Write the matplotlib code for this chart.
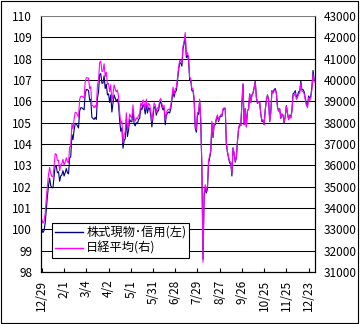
import matplotlib
matplotlib.use("Agg")
import matplotlib.pyplot as plt
from matplotlib.patches import Rectangle

plt.rcParams['font.family'] = ['Noto Sans CJK JP', 'DejaVu Sans']

# trading days, 2023/12/29 - 2024/12/30; a label every 20 days
tick_labels = ["12/29", "2/1", "3/4", "4/2", "5/1", "5/31", "6/28",
               "7/29", "8/27", "9/26", "10/25", "11/25", "12/23"]

# 日経平均 (right axis)
nikkei = [
    33464, 33288, 33377, 33763, 34441, 35049, 35577, 35901, 35619, 35477,
    35466, 35963, 36546, 36517, 36226, 36236, 35751, 36026, 36065, 36286,
    36011, 36158, 36354, 36160, 36119, 36863, 36897, 37963, 37703, 38157,
    38487, 38470, 38363, 38262, 39098, 39233, 39239, 39208, 39166, 39910,
    40109, 40097, 40090, 39598, 39688, 38820, 38797, 38695, 38807, 38707,
    39740, 40003, 40815, 40888, 40414, 40398, 40762, 40168, 40369, 39803,
    39838, 39451, 39773, 38992, 39347, 39773, 39581, 39442, 39523, 39232,
    38471, 37961, 38079, 37068, 37438, 37552, 38460, 37628, 37934, 38405,
    38274, 38236, 38835, 38202, 38073, 38229, 38179, 38356, 38385, 38920,
    38787, 39069, 38946, 38617, 39103, 38646, 38900, 38855, 38556, 38054,
    38487, 38923, 38837, 38490, 38703, 38683, 39038, 39134, 38876, 38720,
    38814, 38102, 38482, 38570, 38633, 38596, 38804, 39173, 39667, 39341,
    39583, 39631, 40074, 40580, 40913, 40912, 40780, 41580, 41831, 42224,
    41190, 41275, 41097, 40126, 40063, 39599, 39594, 39154, 37869, 37667,
    38468, 38525, 39101, 38126, 35909, 31458, 34675, 35089, 34831, 35025,
    36232, 36442, 36726, 38062, 37388, 37963, 37951, 38211, 38364, 38110,
    38288, 38371, 38362, 38647, 38700, 38686, 37047, 36657, 36391, 36159,
    36159, 35619, 36833, 36581, 36203, 36380, 37155, 37723, 37940, 37870,
    38925, 39829, 37919, 38651, 37808, 38552, 38635, 39332, 38937, 39277,
    39380, 39605, 39910, 39180, 38911, 38981, 38954, 38411, 38104, 38143,
    37913, 38605, 39027, 39277, 39081, 38053, 38474, 39480, 39381, 39500,
    39533, 39376, 38721, 38535, 38642, 38220, 38414, 38352, 38026, 38283,
    38780, 38442, 38134, 38349, 38208, 38513, 39248, 39276, 39395, 39091,
    39160, 39367, 39372, 39849, 39470, 39457, 39364, 39081, 38813, 38701,
    39161, 39036, 39130, 39568, 40281, 39894,
]

# 株式現物・信用 (left axis, index)
stock = [
    100.00, 99.85, 99.95, 100.30, 100.95, 101.55, 102.05, 102.40, 102.05, 101.95,
    101.95, 102.45, 103.00, 102.95, 102.65, 102.70, 102.25, 102.50, 102.55, 102.75,
    102.50, 102.65, 102.85, 102.65, 102.60, 103.35, 103.40, 104.45, 104.20, 104.65,
    104.95, 104.95, 104.85, 104.75, 105.55, 105.70, 105.70, 105.65, 105.60, 106.35,
    106.55, 106.55, 106.50, 106.05, 106.10, 105.25, 105.20, 105.15, 105.25, 105.15,
    106.15, 106.45, 107.25, 107.30, 106.85, 106.85, 107.20, 106.60, 106.80, 106.30,
    106.35, 105.95, 106.30, 105.50, 105.90, 106.30, 106.15, 106.00, 106.10, 105.85,
    105.10, 104.60, 104.75, 103.80, 104.15, 104.25, 105.15, 104.35, 104.65, 105.15,
    105.05, 105.05, 105.60, 104.95, 104.85, 105.00, 104.95, 105.15, 105.20, 105.70,
    105.60, 105.85, 105.75, 105.40, 105.90, 105.45, 105.70, 105.65, 105.35, 104.80,
    105.30, 105.75, 105.70, 105.35, 105.55, 105.55, 105.90, 106.00, 105.75, 105.60,
    105.70, 104.90, 105.35, 105.45, 105.50, 105.45, 105.65, 106.05, 106.50, 106.20,
    106.45, 106.50, 106.95, 107.45, 107.80, 107.80, 107.65, 108.45, 108.70, 109.05,
    108.05, 108.15, 107.95, 107.00, 106.95, 106.50, 106.50, 106.05, 104.75, 104.55,
    105.35, 105.40, 106.00, 105.00, 102.80, 98.60, 101.55, 101.95, 101.70, 101.90,
    103.10, 103.35, 103.65, 104.95, 104.30, 104.90, 104.90, 105.15, 105.30, 105.05,
    105.25, 105.30, 105.30, 105.60, 105.65, 105.65, 104.00, 103.60, 103.35, 103.10,
    103.10, 102.50, 103.80, 103.55, 103.15, 103.35, 104.10, 104.70, 104.90, 104.85,
    105.90, 106.80, 104.90, 105.65, 104.80, 105.55, 105.65, 106.35, 105.95, 106.30,
    106.40, 106.65, 106.95, 106.20, 105.90, 106.00, 105.95, 105.40, 105.05, 105.10,
    104.90, 105.60, 106.05, 106.30, 106.10, 105.05, 105.50, 106.50, 106.40, 106.55,
    106.60, 106.40, 105.75, 105.55, 105.65, 105.20, 105.40, 105.35, 105.00, 105.30,
    105.80, 105.45, 105.15, 105.35, 105.25, 105.60, 106.35, 106.40, 106.50, 106.20,
    106.25, 106.45, 106.45, 106.95, 106.55, 106.55, 106.45, 106.15, 105.90, 105.80,
    106.25, 106.15, 106.25, 106.70, 107.45, 107.00,
]

left_ticks = list(range(98, 111))
right_ticks = list(range(31000, 43001, 1000))

fig = plt.figure(figsize=(3.6, 3.24), dpi=100)
ax = fig.add_axes([41.3 / 360, 1 - 272 / 324, 273.4 / 360, 256 / 324])
ax2 = ax.twinx()

x = list(range(len(nikkei)))
l1, = ax.plot(x, stock, color="#000080", lw=0.8, label="株式現物･信用(左)")
l2, = ax2.plot(x, nikkei, color="#FF00FF", lw=0.8, label="日経平均(右)")

ax.set_xlim(-0.5, len(nikkei) - 0.5)
ax.set_ylim(98, 110)
ax2.set_ylim(31000, 43000)
ax.set_yticks(left_ticks)
ax2.set_yticks(right_ticks)
ax.set_xticks(list(range(0, len(nikkei), 20)))
ax.set_xticklabels(tick_labels, rotation=90)

ax.grid(axis="y", color="black", lw=0.75)
ax.set_axisbelow(True)

ax.tick_params(axis="y", length=0, pad=6.5, labelsize=8.5)
ax2.tick_params(axis="y", length=0, pad=6.5, labelsize=8.5)
ax.tick_params(axis="x", direction="in", length=3, width=0.8, pad=5.5, labelsize=8.5)

for a in (ax, ax2):
    for s in ("left", "right", "bottom"):
        a.spines[s].set_linewidth(0.8)
        a.spines[s].set_color("black")
    a.spines["top"].set_color("#808080")
    a.spines["top"].set_linewidth(0.6)

leg = ax2.legend(handles=[l1, l2], loc="lower left",
                 bbox_to_anchor=(0.039, 0.055), borderaxespad=0,
                 fontsize=8.8, fancybox=False, framealpha=1, edgecolor="black",
                 handlelength=2.3, handletextpad=0.25, labelspacing=0.2,
                 borderpad=0.25)
leg.get_frame().set_linewidth(0.8)
for ln in leg.get_lines():
    ln.set_linewidth(1.0)

fig.patches.append(Rectangle((0.8 / 360, 1.2 / 324), 357.6 / 360, 321.6 / 324,
                             transform=fig.transFigure, fill=False,
                             edgecolor="black", lw=0.8))

fig.savefig("out.png", dpi=100)
